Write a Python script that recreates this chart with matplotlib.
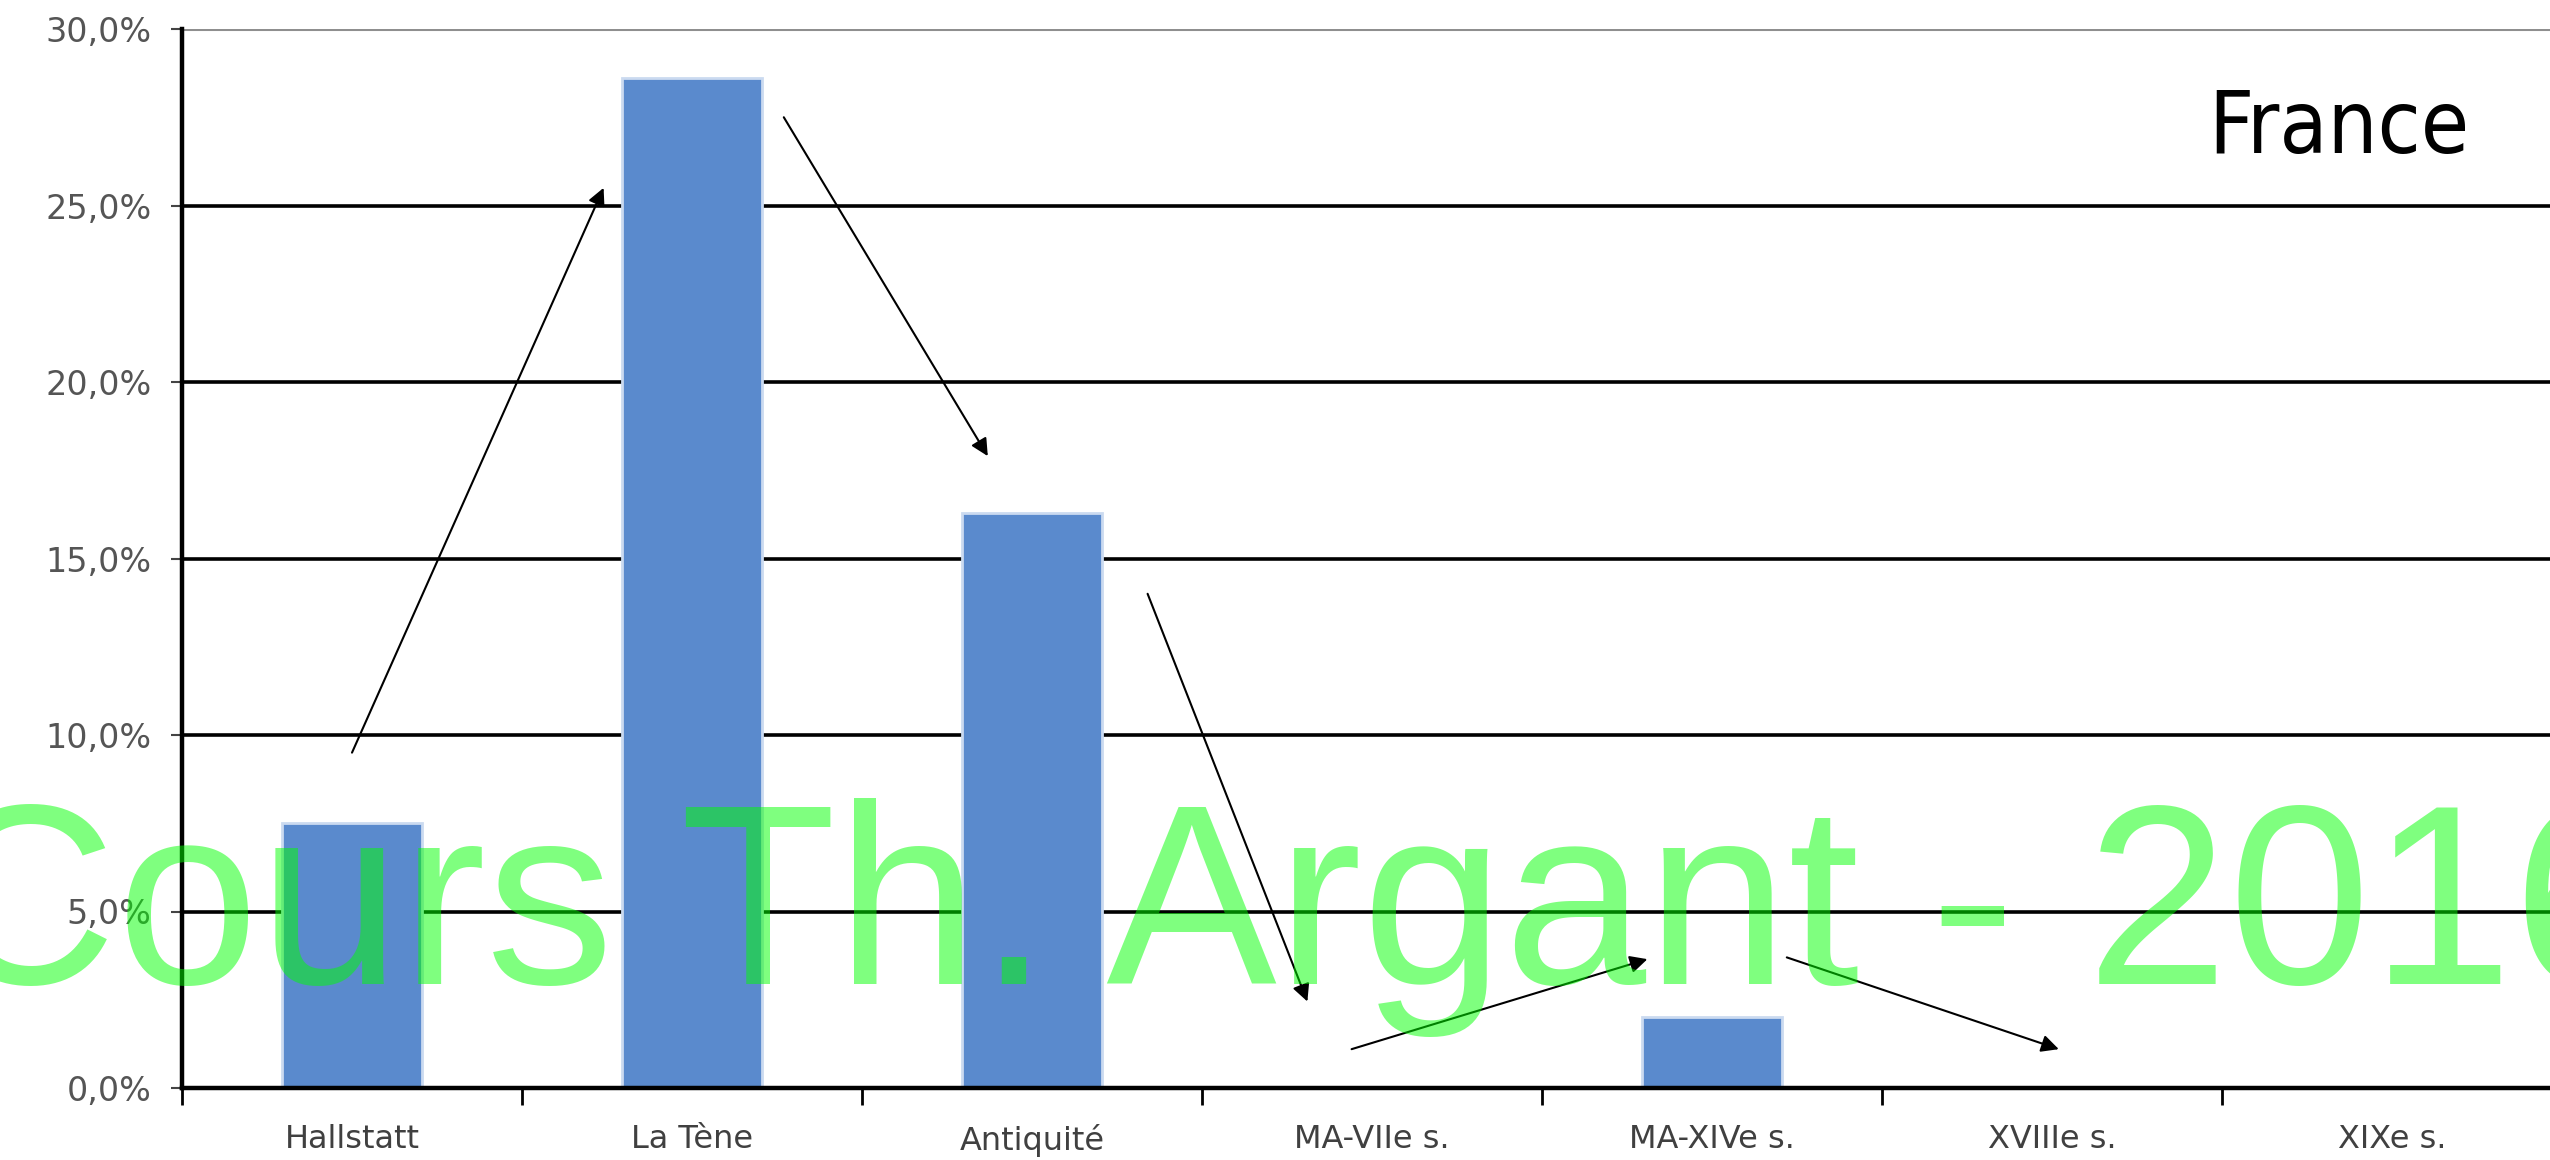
import matplotlib.pyplot as plt
from matplotlib.ticker import FixedLocator

# share of dated samples per period (%)
periods = ['Hallstatt', 'La Tène', 'Antiquité', 'MA-VIIe s.', 'MA-XIVe s.', 'XVIIIe s.', 'XIXe s.']
share = [7.5, 28.6, 16.3, 0.0, 2.0, 0.0, 0.0]

y_ticks = [0, 5, 10, 15, 20, 25, 30]
y_labels = ['0,0%', '5,0%', '10,0%', '15,0%', '20,0%', '25,0%', '30,0%']

# hand drawn trend arrows: start / end in (category index, percent)
arrow_start = [(0.0, 9.5), (1.27, 27.5), (2.34, 14.0), (2.94, 1.1), (4.22, 3.7)]
arrow_end = [(0.74, 25.5), (1.87, 17.9), (2.81, 2.45), (3.81, 3.65), (5.02, 1.1)]

W, H = 2550, 1160
fig = plt.figure(figsize=(W / 100, H / 100), dpi=100)
ax = fig.add_axes([182 / W, 72 / H, 2380 / W, 1059 / H])

x = list(range(len(periods)))
ax.bar(x, share, width=0.41, color='#5a8acd', edgecolor='#cbdaf0', linewidth=2, zorder=2)

ax.set_xlim(-0.5, len(periods) - 0.5)
ax.set_ylim(0, 30)

# grid, the top line is grey
ax.set_axisbelow(True)
ax.yaxis.grid(True, color='black', linewidth=2.6)
ax.set_yticks(y_ticks)
ax.set_yticklabels(y_labels)
gl = ax.get_ygridlines()
gl[-1].set_color('#8f8f8f')
gl[-1].set_linewidth(2.2)

ax.spines['top'].set_visible(False)
ax.spines['right'].set_visible(False)
ax.spines['left'].set_linewidth(3.2)
ax.spines['bottom'].set_linewidth(3.2)
ax.spines['bottom'].set_zorder(3)

ax.tick_params(axis='y', length=8, width=1.5, color='#444444', pad=14,
               labelsize=24, labelcolor='#555555')

ax.set_xticks(x)
ax.set_xticklabels(periods)
ax.xaxis.set_minor_locator(FixedLocator([i - 0.5 for i in range(len(periods) + 1)]))
ax.tick_params(axis='x', which='major', length=0, pad=26, labelsize=23, labelcolor='#404040')
ax.tick_params(axis='x', which='minor', length=12, width=2, color='black')

for s, e in zip(arrow_start, arrow_end):
    ax.annotate('', xy=e, xytext=s,
                arrowprops=dict(arrowstyle='-|>', color='black', lw=1.5,
                                mutation_scale=26, shrinkA=0, shrinkB=0),
                zorder=4)

fig.text(2469 / W, 1 - 153 / H, 'France', ha='right', va='baseline', fontsize=63,
         family=['Liberation Sans Narrow', 'DejaVu Sans'], stretch='condensed')

fig.text(-68 / W, 1 - 984 / H, 'Cours Th. Argant - 2016', ha='left', va='baseline',
         fontsize=184, family='Liberation Sans', color=(0, 1, 0), alpha=0.5, zorder=10)

fig.savefig('out.png', dpi=100)
